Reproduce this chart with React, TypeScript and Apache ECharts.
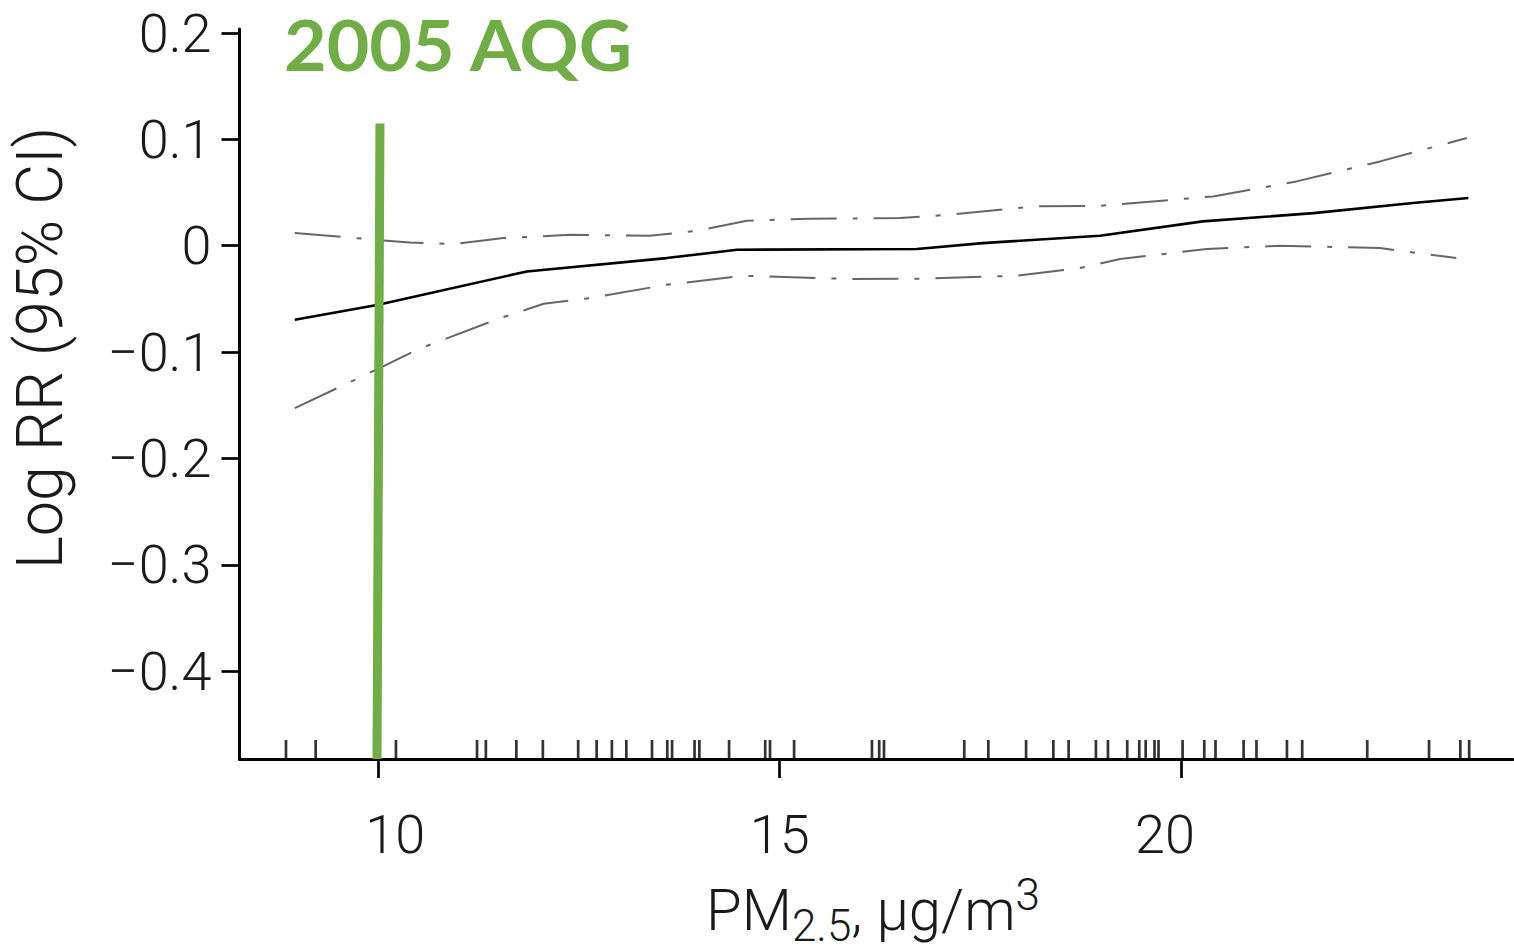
import React, { useEffect, useRef } from "react";
import * as echarts from "echarts";

// ---- data ----
const xTicks = [10, 15, 20];
const yTicks = [-0.4, -0.3, -0.2, -0.1, 0, 0.1, 0.2];

const estimate: [number, number][] = [
  [8.96, -0.0696], [10.0, -0.0555], [11.85, -0.0242], [13.59, -0.0116],
  [14.47, -0.0038], [16.71, -0.003], [17.53, 0.0025], [18.99, 0.0094],
  [20.27, 0.0229], [21.65, 0.0307], [22.89, 0.0402], [23.58, 0.0449],
];

const upperCI: [number, number][] = [
  [8.96, 0.0119], [9.86, 0.0063], [10.39, 0.0031], [10.93, 0.0016],
  [11.56, 0.0072], [12.39, 0.0103], [13.38, 0.0094], [13.97, 0.0141],
  [14.59, 0.0235], [15.38, 0.0254], [16.5, 0.026], [17.12, 0.0292],
  [18.16, 0.037], [18.99, 0.0376], [20.4, 0.0464], [21.44, 0.0605],
  [22.48, 0.0793], [23.56, 0.1013],
];

const lowerCI: [number, number][] = [
  [8.96, -0.1527], [10.06, -0.1135], [10.48, -0.0978], [11.52, -0.068],
  [12.06, -0.0546], [12.64, -0.0492], [13.59, -0.0367], [14.55, -0.0282],
  [15.88, -0.0313], [16.79, -0.031], [17.95, -0.0282], [18.74, -0.021],
  [19.24, -0.0125], [20.32, -0.0031], [21.23, 0.0], [22.48, -0.0022],
  [23.43, -0.0116],
];

const rugValues = [
  8.85, 9.22, 10.22, 11.23, 11.34, 11.72, 12.05, 12.49, 12.72, 12.91, 13.09,
  13.41, 13.6, 13.66, 13.94, 14.0, 14.37, 14.82, 14.88, 15.18, 16.15, 16.24,
  16.3, 17.3, 17.6, 18.07, 18.41, 18.6, 18.94, 19.09, 19.33, 19.48, 19.56,
  19.67, 19.72, 20.02, 20.29, 20.43, 20.78, 20.94, 21.32, 21.51, 22.32, 23.09,
  23.48, 23.59,
];

const aqgLine: [number, number][] = [[9.984, -0.4826], [10.021, 0.115]];

const X_MIN = 8.271;
const X_MAX = 24.136;
const Y_MIN = -0.4826;
const Y_MAX = 0.2038;

const GREEN = "#70AD47";
const FONT = "Roboto, 'Liberation Sans', Arial, Helvetica, sans-serif";
const TEXT_COLOR = "#1a1a1a";

export default function App() {
  const ref = useRef<HTMLDivElement>(null);

  useEffect(() => {
    if (!ref.current) return;
    const chart = echarts.init(ref.current, undefined, { renderer: "svg" });
    const labelStyle = { fontFamily: FONT, fontWeight: 300, fontSize: 54, color: TEXT_COLOR };
    chart.setOption({
      animation: false,
      backgroundColor: "#ffffff",
      grid: { left: 239.5, right: 1, top: 29, bottom: 952 - 759, containLabel: false },
      xAxis: {
        type: "value",
        min: X_MIN,
        max: X_MAX,
        splitLine: { show: false },
        axisLine: { show: true, onZero: false, lineStyle: { color: "#000", width: 3 } },
        axisTick: {
          show: true,
          customValues: xTicks,
          length: 19,
          inside: false,
          lineStyle: { color: "#000", width: 2.7 },
        },
        axisLabel: {
          customValues: xTicks,
          margin: 48,
          ...labelStyle,
          formatter: (v: number) =>
            v === 10 ? `{l|${v}}` : v === 20 ? `{r|${v}}` : `{c|${v}}`,
          rich: {
            l: { ...labelStyle, padding: [0, 0, 0, 34] },
            c: { ...labelStyle },
            r: { ...labelStyle, padding: [0, 32, 0, 0] },
          },
        },
      },
      yAxis: {
        type: "value",
        min: Y_MIN,
        max: Y_MAX,
        splitLine: { show: false },
        axisLine: { show: true, onZero: false, lineStyle: { color: "#000", width: 3 } },
        axisTick: {
          show: true,
          customValues: yTicks,
          length: 18,
          inside: false,
          lineStyle: { color: "#000", width: 2.7 },
        },
        axisLabel: {
          customValues: yTicks,
          margin: 28,
          ...labelStyle,
          formatter: (v: number) =>
            v === 0 ? "0" : (v < 0 ? "\u2212" : "") + Math.abs(v).toFixed(1),
        },
      },
      series: [
        {
          name: "Upper 95% CI",
          type: "line",
          data: upperCI,
          showSymbol: false,
          symbol: "none",
          lineStyle: { color: "#666", width: 2, type: [46, 16, 5, 16] },
          z: 3,
        },
        {
          name: "Lower 95% CI",
          type: "line",
          data: lowerCI,
          showSymbol: false,
          symbol: "none",
          lineStyle: { color: "#666", width: 2, type: [46, 16, 5, 16] },
          z: 3,
        },
        {
          name: "Log RR",
          type: "line",
          data: estimate,
          showSymbol: false,
          symbol: "none",
          lineStyle: { color: "#000", width: 2.6 },
          z: 4,
        },
        {
          name: "Rug",
          type: "scatter",
          data: rugValues.map((v) => [v, Y_MIN]),
          symbol: "rect",
          symbolSize: [2.7, 19],
          symbolOffset: [0, -9.5],
          itemStyle: { color: "#000" },
          z: 2,
        },
        {
          name: "2005 AQG",
          type: "line",
          data: aqgLine,
          showSymbol: false,
          symbol: "none",
          lineStyle: { color: GREEN, width: 9, cap: "butt" },
          z: 6,
        },
      ],
      graphic: [
        {
          type: "text",
          x: 284,
          y: 44,
          scaleX: 1.05,
          style: {
            text: "2005 AQG",
            fontFamily: "Lato, 'Open Sans', sans-serif",
            fontWeight: "bold",
            fontSize: 70,
            fill: GREEN,
            align: "left",
            verticalAlign: "middle",
          },
          z: 10,
        },
        {
          type: "text",
          x: 40,
          y: 348,
          rotation: Math.PI / 2,
          scaleX: 0.98,
          style: {
            text: "Log RR (95% CI)",
            fontFamily: FONT,
            fontWeight: 300,
            fontSize: 64,
            fill: TEXT_COLOR,
            align: "center",
            verticalAlign: "middle",
          },
        },
        {
          type: "text",
          x: 873,
          y: 910,
          style: {
            text: "{m|PM}{s|2.5}{m|, \u00b5g/m}{p|3}",
            align: "center",
            verticalAlign: "middle",
            fill: TEXT_COLOR,
            rich: {
              m: { fontFamily: FONT, fontWeight: 300, fontSize: 58, fill: TEXT_COLOR },
              s: { fontFamily: FONT, fontWeight: 300, fontSize: 44, fill: TEXT_COLOR, padding: [32, 0, 0, 0] },
              p: { fontFamily: FONT, fontWeight: 300, fontSize: 44, fill: TEXT_COLOR, padding: [0, 0, 30, 0] },
            },
          },
        },
      ],
    });
    return () => chart.dispose();
  }, []);

  return (
    <div
      ref={ref}
      style={{ position: "fixed", left: 0, top: 0, width: 1514, height: 952, background: "#fff" }}
    />
  );
}
